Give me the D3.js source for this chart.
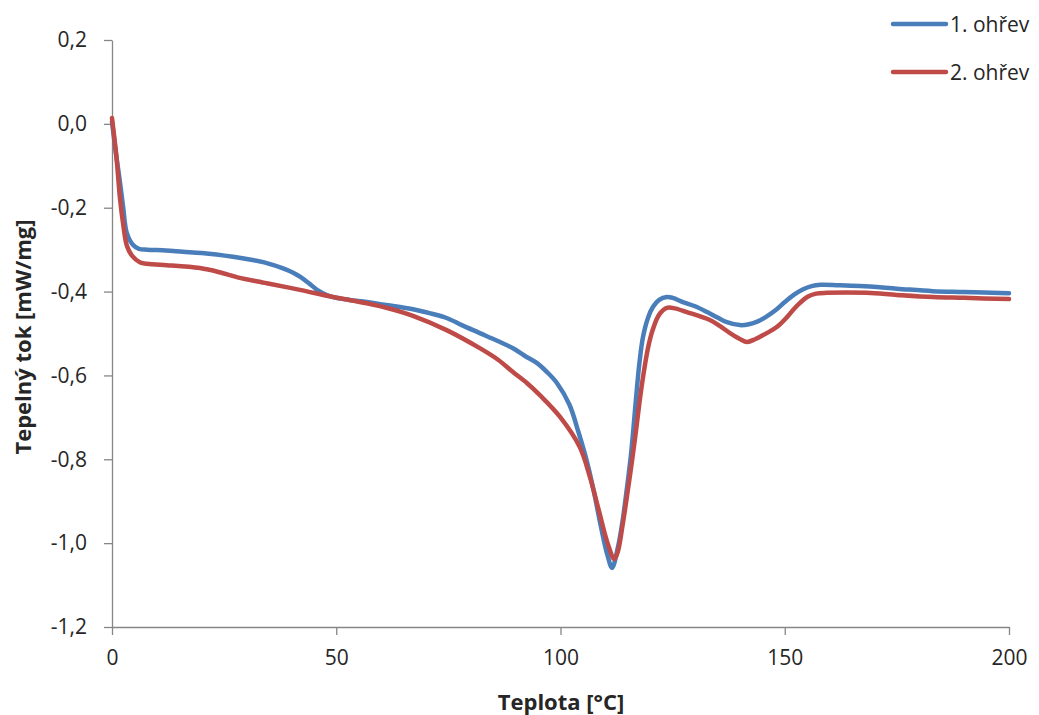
<!DOCTYPE html>
<html>
<head>
<meta charset="utf-8">
<script src="https://cdn.jsdelivr.net/npm/d3@7"></script>
<style>
  html, body { margin: 0; padding: 0; background: #fff; }
  svg { display: block; }
</style>
</head>
<body>
<svg id="chart" width="1039" height="715"></svg>
<script>
// ---- data ----
const seriesNames = ["1. ohřev", "2. ohřev"];
const seriesColors = ["#4A7EBB", "#BE4B48"];

const heat1X = [0, 1, 1.8, 2.5, 3.3, 4.7, 6, 7.8, 12, 15.8, 20, 27, 31, 34.5, 38, 40.4, 42, 44, 46, 48, 50,
  53, 56.8, 59.8, 64.2, 67.1, 71, 74.6, 78, 82, 86, 89.4, 92, 94.7, 97, 99.2, 102, 104, 106, 107.5, 109,
  110.5, 111.5, 112.8, 113.8, 114.8, 115.8, 116.8, 117.6, 118.4, 119.5, 120.6, 122, 123.7, 125, 127.3, 130,
  132.7, 135, 137.1, 140, 142, 144, 146, 148, 150, 152, 154, 156, 158, 162, 166.8, 175, 183, 190, 200];
const heat1Y = [0.005, -0.08, -0.141, -0.2, -0.26, -0.289, -0.298, -0.300, -0.302, -0.305, -0.308, -0.317,
  -0.324, -0.332, -0.344, -0.355, -0.365, -0.381, -0.398, -0.409, -0.415, -0.420, -0.425, -0.430, -0.437,
  -0.442, -0.452, -0.463, -0.480, -0.499, -0.518, -0.535, -0.553, -0.570, -0.592, -0.618, -0.670, -0.735,
  -0.810, -0.880, -0.96, -1.03, -1.059, -1.010, -0.950, -0.870, -0.780, -0.660, -0.570, -0.508, -0.463,
  -0.437, -0.420, -0.413, -0.415, -0.425, -0.435, -0.449, -0.462, -0.473, -0.480, -0.478, -0.471, -0.459,
  -0.444, -0.425, -0.408, -0.395, -0.387, -0.384, -0.385, -0.387, -0.393, -0.399, -0.401, -0.404];

const heat2X = [0, 1, 1.8, 2.5, 3.3, 4.5, 6.2, 9, 12.2, 19.6, 24, 28, 34.5, 41.9, 49.3, 56.8, 62, 67.1,
  74.6, 82, 86, 89.4, 92.5, 95.4, 99.9, 104.3, 106.5, 108.5, 110.5, 112, 112.8, 113.8, 114.8, 115.8, 116.8,
  117.6, 118.4, 119.5, 120.6, 122, 123.7, 125.5, 128.2, 133.3, 135.5, 137.8, 140, 141.6, 143.5, 146, 148.3,
  150.5, 152, 153.4, 155, 157, 159.4, 168.3, 175, 183, 190, 200];
const heat2Y = [0.014, -0.08, -0.18, -0.24, -0.29, -0.315, -0.330, -0.335, -0.337, -0.344, -0.354, -0.366,
  -0.380, -0.396, -0.413, -0.428, -0.441, -0.458, -0.492, -0.535, -0.562, -0.592, -0.618, -0.647, -0.699,
  -0.771, -0.84, -0.92, -1.00, -1.038, -1.020, -0.960, -0.890, -0.815, -0.735, -0.665, -0.604, -0.535,
  -0.490, -0.455, -0.439, -0.440, -0.449, -0.468, -0.482, -0.499, -0.513, -0.520, -0.513, -0.499, -0.484,
  -0.461, -0.442, -0.427, -0.413, -0.405, -0.403, -0.403, -0.408, -0.413, -0.415, -0.418];

const xTicks = [0, 50, 100, 150, 200];
const yTicks = [0.2, 0.0, -0.2, -0.4, -0.6, -0.8, -1.0, -1.2];
const xTitle = "Teplota [°C]";
const yTitle = "Tepelný tok [mW/mg]";

// ---- chart ----
const svg = d3.select("#chart");
const W = 1039, H = 715;
const margin = { left: 112, right: 30, top: 40, bottom: 88 };
const FONT = "'Open Sans', sans-serif";
const axisColor = "#868686";
const textColor = "#262626";

const x = d3.scaleLinear().domain([0, 200]).range([margin.left, W - margin.right]);
const y = d3.scaleLinear().domain([-1.2, 0.2]).range([H - margin.bottom, margin.top]);

const locale = d3.formatLocale({ decimal: ",", thousands: " ", grouping: [3], currency: ["", ""], minus: "-" });
const fmtY = locale.format(".1f");

// y axis
const yAxis = svg.append("g")
  .attr("transform", `translate(${margin.left},0)`)
  .call(d3.axisLeft(y).tickValues(yTicks).tickFormat(fmtY).tickSize(8).tickSizeOuter(0).tickPadding(17));
// x axis
const xAxis = svg.append("g")
  .attr("transform", `translate(0,${H - margin.bottom})`)
  .call(d3.axisBottom(x).tickValues(xTicks).tickFormat(d3.format("d")).tickSize(8).tickSizeOuter(0).tickPadding(15));

[yAxis, xAxis].forEach(g => {
  g.select(".domain").attr("stroke", axisColor).attr("stroke-width", 1.3);
  g.selectAll(".tick line").attr("stroke", axisColor).attr("stroke-width", 1.3);
  g.selectAll(".tick text").attr("fill", textColor).style("font-family", FONT).style("font-size", "21px");
});

// lines
const line = d3.line().x(d => x(d[0])).y(d => y(d[1])).curve(d3.curveCatmullRom.alpha(0.5));
const series = [
  d3.zip(heat1X, heat1Y),
  d3.zip(heat2X, heat2Y)
];
series.forEach((s, i) => {
  svg.append("path")
    .datum(s)
    .attr("fill", "none")
    .attr("stroke", seriesColors[i])
    .attr("stroke-width", 4.5)
    .attr("stroke-linejoin", "round")
    .attr("stroke-linecap", "round")
    .attr("d", line);
});

// axis titles
svg.append("text")
  .attr("x", 561).attr("y", 710)
  .attr("text-anchor", "middle")
  .attr("fill", textColor)
  .style("font-family", FONT).style("font-size", "22px").style("font-weight", "bold")
  .text(xTitle);

svg.append("text")
  .attr("transform", "translate(31,337) rotate(-90)")
  .attr("text-anchor", "middle")
  .attr("fill", textColor)
  .style("font-family", FONT).style("font-size", "22px").style("font-weight", "bold")
  .text(yTitle);

// legend
const legend = svg.append("g");
seriesNames.forEach((name, i) => {
  const ly = 24 + i * 48;
  legend.append("line")
    .attr("x1", 893).attr("x2", 946)
    .attr("y1", ly).attr("y2", ly)
    .attr("stroke", seriesColors[i]).attr("stroke-width", 4.5).attr("stroke-linecap", "round");
  legend.append("text")
    .attr("x", 950).attr("y", ly + 8)
    .attr("fill", textColor)
    .style("font-family", FONT).style("font-size", "21px")
    .text(name);
});
</script>
</body>
</html>
